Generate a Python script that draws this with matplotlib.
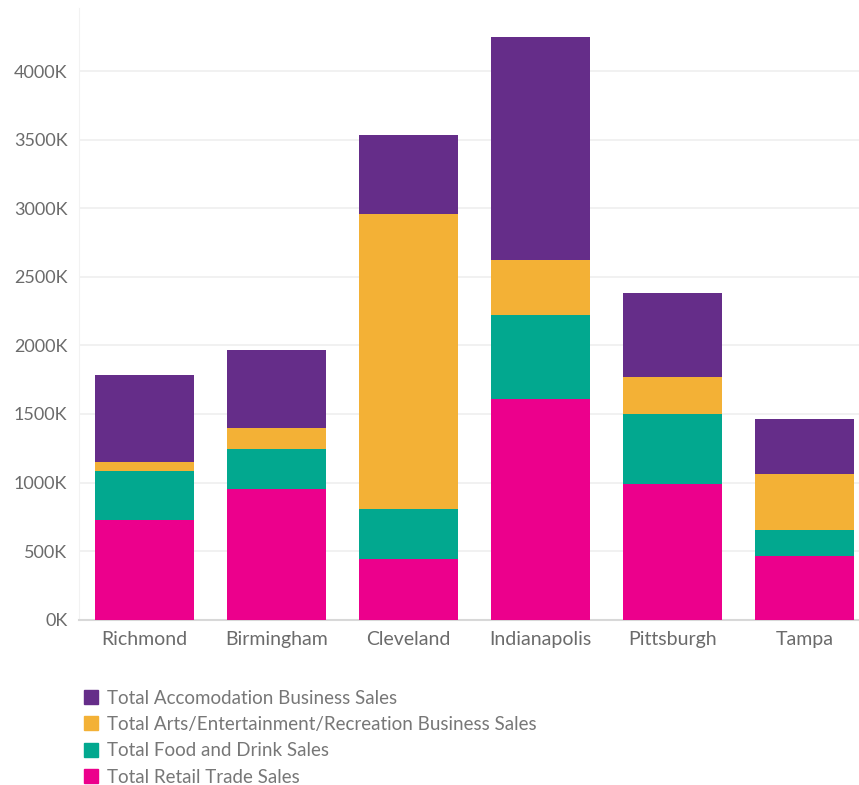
import matplotlib.pyplot as plt
from matplotlib.patches import Patch

# sales by city, in thousands
cities = ['Richmond', 'Birmingham', 'Cleveland', 'Indianapolis', 'Pittsburgh', 'Tampa']
retail = [729, 953, 442, 1609, 991, 464]
food = [355, 291, 365, 612, 509, 190]
arts = [66, 153, 2151, 401, 269, 408]
accom = [634, 569, 575, 1626, 613, 401]

series = [
    ('Total Retail Trade Sales', retail, '#EC008C'),
    ('Total Food and Drink Sales', food, '#02A88F'),
    ('Total Arts/Entertainment/Recreation Business Sales', arts, '#F3B136'),
    ('Total Accomodation Business Sales', accom, '#652D89'),
]

plt.rcParams['font.family'] = ['Lato', 'DejaVu Sans']

W, H = 859, 785
fig = plt.figure(figsize=(W / 100, H / 100), dpi=100)
left, right, top, bottom = 78.5, 859 + 12, 8, 619.7
ax = fig.add_axes([left / W, 1 - bottom / H, (right - left) / W, (bottom - top) / H])

x = range(len(cities))
base = [0] * len(cities)
for name, vals, color in series:
    ax.bar(x, vals, bottom=base, width=0.75, color=color, label=name, zorder=3)
    base = [b + v for b, v in zip(base, vals)]

ax.set_xlim(-0.5, 5.5)
ax.set_ylim(0, (bottom - top) * 7.29)
ax.set_yticks(range(0, 4001, 500))
ax.set_yticklabels([f'{v}K' for v in range(0, 4001, 500)])
ax.set_xticks(list(x))
ax.set_xticklabels(cities)

ax.grid(axis='y', color='#efefef', linewidth=1.2, zorder=0)
for s in ['top', 'right']:
    ax.spines[s].set_visible(False)
ax.spines['left'].set_color('#f2f2f2')
ax.spines['bottom'].set_color('#d8d8d8')
ax.spines['bottom'].set_linestyle((0, (2, 1)))
ax.spines['bottom'].set_linewidth(1.5)
ax.tick_params(axis='both', length=0, labelcolor='#6b6b6b')
ax.tick_params(axis='y', pad=8, labelsize=13)
ax.tick_params(axis='x', pad=8, labelsize=14)

handles = [Patch(color=c, label=n) for n, _, c in reversed(series)]
fig.legend(handles=handles, loc='upper left', bbox_to_anchor=(76 / W, 1 - 682 / H),
           frameon=False, fontsize=13.5, labelcolor='#777777', handlelength=0.75,
           handleheight=0.75, handletextpad=0.5, labelspacing=0.5, borderaxespad=0)

fig.savefig('out.png', dpi=100)
